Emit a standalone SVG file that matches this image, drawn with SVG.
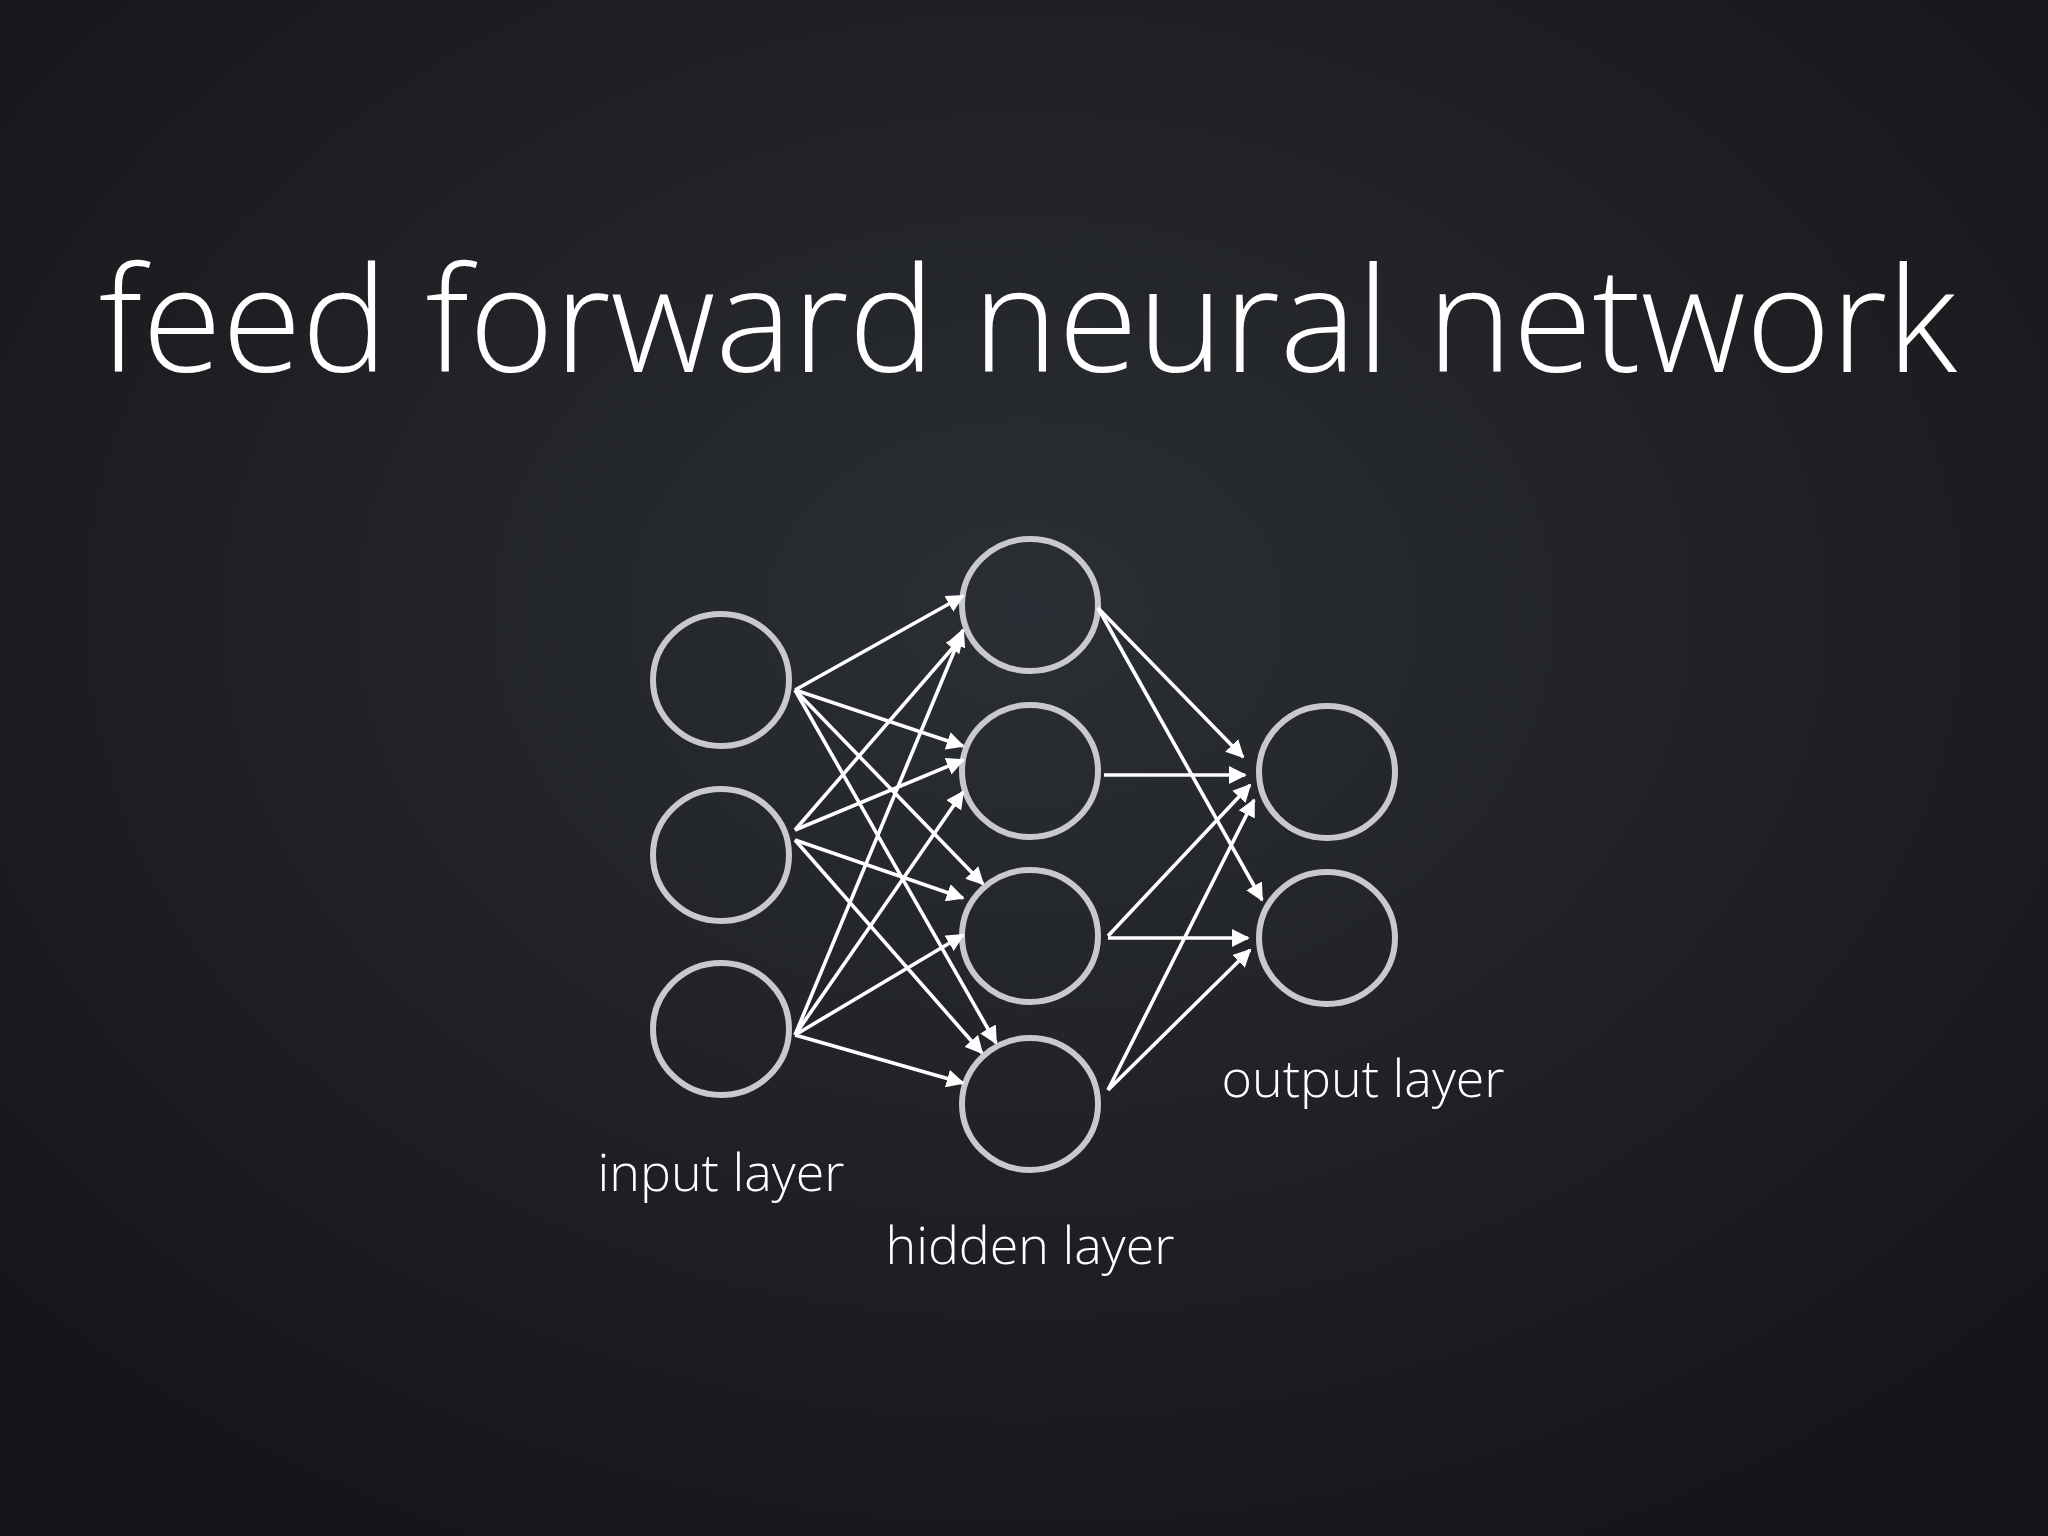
<svg xmlns="http://www.w3.org/2000/svg" width="2048" height="1536" viewBox="0 0 2048 1536">
<defs>
<radialGradient id="bg" cx="50%" cy="40%" r="70%">
<stop offset="0" stop-color="#2b2e34"/><stop offset="1" stop-color="#141518"/>
</radialGradient>
<marker id="ah" viewBox="0 0 10 10" refX="9" refY="5" markerWidth="5" markerHeight="5" orient="auto" markerUnits="strokeWidth">
<path d="M0,0 L10,5 L0,10 z" fill="#fff"/>
</marker>
<style>
.n{fill:none;stroke:#c9c9cd;stroke-width:6}
.e line{stroke:#fff;stroke-width:3.6;marker-end:url(#ah)}
.t{font-family:"Open Sans","Liberation Sans",sans-serif;font-weight:300;fill:#fff;text-anchor:middle}
</style>
</defs>
<rect width="2048" height="1536" fill="url(#bg)"/>
<text class="t" x="1028" y="372" font-size="145">feed forward neural network</text>
<g id="in1"><ellipse class="n" cx="721" cy="680" rx="68" ry="66"/></g>
<g id="in2"><ellipse class="n" cx="721" cy="855" rx="68" ry="66"/></g>
<g id="in3"><ellipse class="n" cx="721" cy="1029" rx="68" ry="66"/></g>
<g id="h1"><ellipse class="n" cx="1030" cy="605" rx="68" ry="66"/></g>
<g id="h2"><ellipse class="n" cx="1030" cy="771" rx="68" ry="66"/></g>
<g id="h3"><ellipse class="n" cx="1030" cy="936" rx="68" ry="66"/></g>
<g id="h4"><ellipse class="n" cx="1030" cy="1104" rx="68" ry="66"/></g>
<g id="o1"><ellipse class="n" cx="1327" cy="772" rx="68" ry="66"/></g>
<g id="o2"><ellipse class="n" cx="1327" cy="938" rx="68" ry="66"/></g>
<g class="e" id="edges">
<line x1="795" y1="690" x2="963" y2="596"/>
<line x1="795" y1="690" x2="963" y2="746"/>
<line x1="795" y1="690" x2="983" y2="884"/>
<line x1="795" y1="690" x2="996" y2="1043"/>
<line x1="795" y1="830" x2="963" y2="636"/>
<line x1="795" y1="830" x2="963" y2="760"/>
<line x1="795" y1="840" x2="963" y2="898"/>
<line x1="795" y1="840" x2="982" y2="1053"/>
<line x1="795" y1="1035" x2="963" y2="630"/>
<line x1="795" y1="1035" x2="963" y2="792"/>
<line x1="795" y1="1035" x2="963" y2="935"/>
<line x1="795" y1="1035" x2="963" y2="1083"/>
<line x1="1098" y1="608" x2="1243" y2="757"/>
<line x1="1098" y1="608" x2="1262" y2="900"/>
<line x1="1104" y1="775" x2="1245" y2="775"/>
<line x1="1108" y1="936" x2="1250" y2="785"/>
<line x1="1108" y1="938" x2="1248" y2="938"/>
<line x1="1108" y1="1090" x2="1254" y2="800"/>
<line x1="1108" y1="1090" x2="1250" y2="950"/>
</g>
<text class="t" x="721" y="1191" font-size="52">input layer</text>
<text class="t" x="1030" y="1264" font-size="52">hidden layer</text>
<text class="t" x="1363" y="1097" font-size="52">output layer</text>
</svg>
